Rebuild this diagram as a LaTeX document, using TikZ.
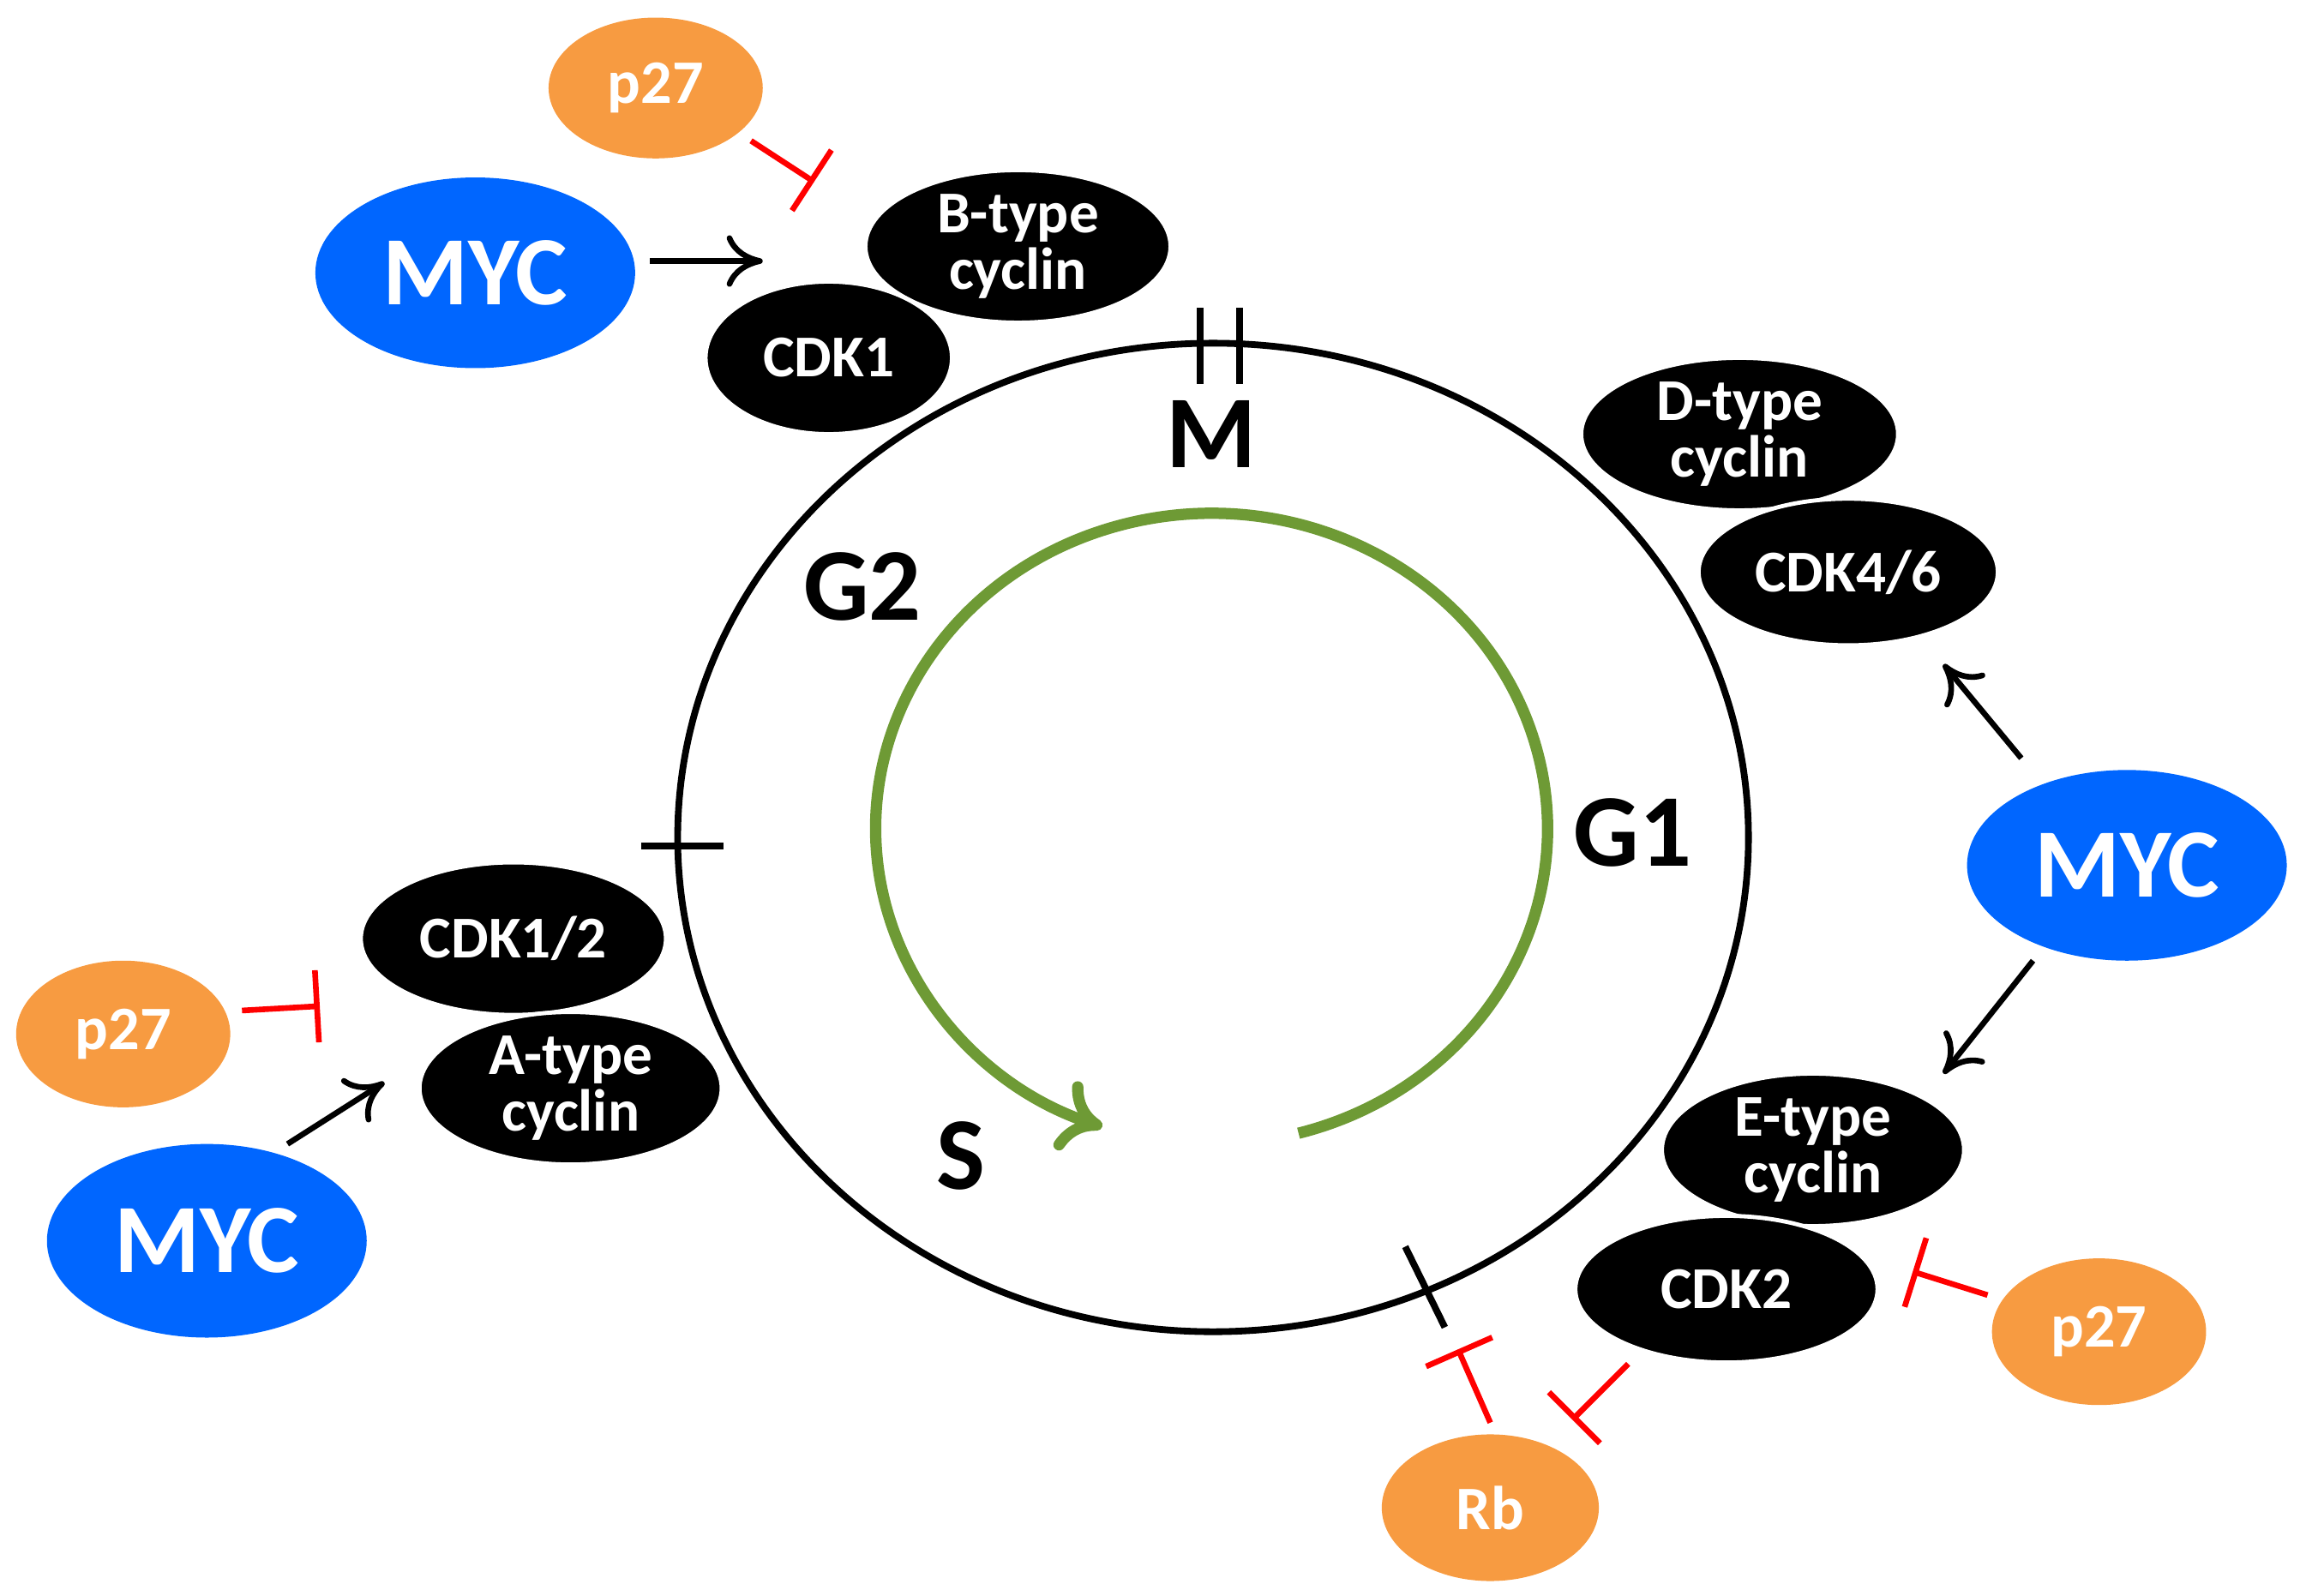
\documentclass[tikz,border=0pt]{standalone}
\usepackage{fontspec}
\setmainfont{Carlito}
\usetikzlibrary{arrows.meta}
\definecolor{myc}{HTML}{0066FF}
\definecolor{org}{HTML}{F79B41}
\definecolor{grn}{HTML}{6E9A35}
\begin{document}
\begin{tikzpicture}[x=0.01cm,y=-0.01cm,
 el/.style={ellipse,inner sep=0pt,minimum width=#1},
 blk/.style={draw=white,line width=0.8pt,fill=black,text=white,font=\bfseries\fontsize{11.5}{13}\selectfont,align=center},
 mycs/.style={fill=myc,text=white,font=\bfseries\fontsize{19}{21}\selectfont},
 ors/.style={fill=org,text=white,font=\bfseries\fontsize{12}{14}\selectfont},
 ph/.style={font=\bfseries\fontsize{20}{22}\selectfont},
 act/.style={-{To[length=7pt,width=10pt]},line width=1.1pt,black},
 inh/.style={-{Bar[width=14pt]},line width=1.1pt,red}]
\useasboundingbox (0,0) rectangle (1568,1088);
\def\E#1#2#3#4#5#6{\path[#6] (#2,#3) ellipse [x radius=#4,y radius=#5]; \node[#6, fill=none, draw=none] (#1) at (#2,#3) {};}
% main circle
\draw[line width=1.3pt] (827,571) ellipse [x radius=365,y radius=337];
\draw[line width=1.3pt] (818,210)--(818,262) (845,210)--(845,262);
\draw[line width=1.3pt] (437,577)--(493,577);
\draw[line width=1.3pt] (958,850)--(985,905);
% green arc
\draw[grn,line width=2.2pt,-{To[length=8pt,width=14pt]}] (826,565) ++(75:229 and 215) arc[start angle=75,end angle=-251,x radius=229,y radius=215];
\node[ph] (M) at (826,296) {M};
\node[ph] (G2) at (588,400) {G2};
\node[ph] (G1) at (1113,568) {G1};
\node[ph] (S) at (655,788) {S};
% ellipses
\path[fill=org] (447,60) ellipse [x radius=73,y radius=48];
\node[ors] (p27a) at (447,60) {p27};
\path[fill=myc] (324,186) ellipse [x radius=109,y radius=65];
\node[mycs] (myca) at (324,186) {MYC};
\path[blk] (694,168) ellipse [x radius=104,y radius=52];
\node[blk,draw=none,fill=none] (cycb) at (694,168) {B-type\\[-2pt]cyclin};
\path[blk] (565,244) ellipse [x radius=84,y radius=52];
\node[blk,draw=none,fill=none] (cdk1) at (565,244) {CDK1};
\path[blk] (1186,296) ellipse [x radius=108,y radius=52];
\node[blk,draw=none,fill=none] (cycd) at (1186,296) {D-type\\[-2pt]cyclin};
\path[blk] (1260,390) ellipse [x radius=102,y radius=50];
\node[blk,draw=none,fill=none] (cdk46) at (1260,390) {CDK4/6};
\path[fill=myc] (1450,590) ellipse [x radius=109,y radius=65];
\node[mycs] (mycb) at (1450,590) {MYC};
\path[blk] (1236,784) ellipse [x radius=103,y radius=52];
\node[blk,draw=none,fill=none] (cyce) at (1236,784) {E-type\\[-2pt]cyclin};
\path[blk] (1177,879) ellipse [x radius=103,y radius=50];
\node[blk,draw=none,fill=none] (cdk2) at (1177,879) {CDK2};
\path[fill=org] (1431,908) ellipse [x radius=73,y radius=50];
\node[ors] (p27b) at (1431,908) {p27};
\path[fill=org] (1016,1028) ellipse [x radius=74,y radius=50];
\node[ors] (rb) at (1016,1028) {Rb};
\path[blk] (350,640) ellipse [x radius=104,y radius=52];
\node[blk,draw=none,fill=none] (cdk12) at (350,640) {CDK1/2};
\path[blk] (389,742) ellipse [x radius=103,y radius=52];
\node[blk,draw=none,fill=none] (cyca) at (389,742) {A-type\\[-2pt]cyclin};
\path[fill=org] (84,705) ellipse [x radius=73,y radius=50];
\node[ors] (p27c) at (84,705) {p27};
\path[fill=myc] (141,846) ellipse [x radius=109,y radius=66];
\node[mycs] (mycc) at (141,846) {MYC};
% connectors
\coordinate (a1s) at (443,178); \coordinate (a1e) at (520,178);
\draw[act] (a1s)--(a1e);
\coordinate (i1s) at (512,96); \coordinate (i1e) at (555,124);
\draw[inh] (i1s)--(i1e);
\coordinate (a2s) at (1378,517); \coordinate (a2e) at (1325,453);
\draw[act] (a2s)--(a2e);
\coordinate (a3s) at (1386,655); \coordinate (a3e) at (1325,732);
\draw[act] (a3s)--(a3e);
\coordinate (i2s) at (1355,883); \coordinate (i2e) at (1304,867);
\draw[inh] (i2s)--(i2e);
\coordinate (i3s) at (1110,930); \coordinate (i3e) at (1072,968);
\draw[inh] (i3s)--(i3e);
\coordinate (i4s) at (1016,970); \coordinate (i4e) at (994,920);
\draw[inh] (i4s)--(i4e);
\coordinate (i5s) at (165,689); \coordinate (i5e) at (218,686);
\draw[inh] (i5s)--(i5e);
\coordinate (a4s) at (196,780); \coordinate (a4e) at (262,738);
\draw[act] (a4s)--(a4e);
\end{tikzpicture}
\end{document}
